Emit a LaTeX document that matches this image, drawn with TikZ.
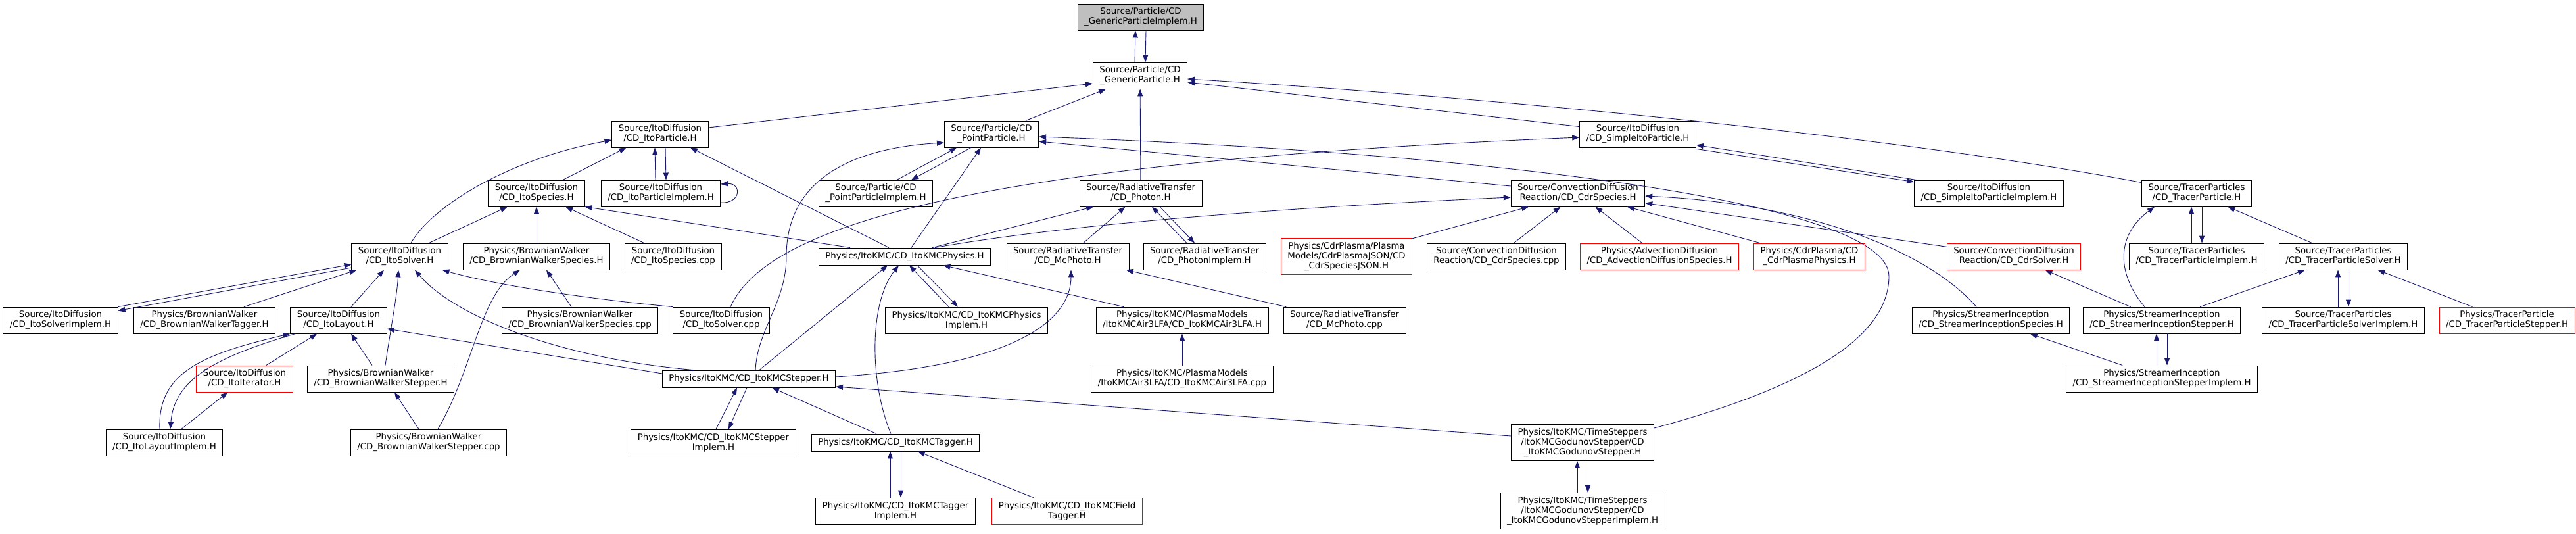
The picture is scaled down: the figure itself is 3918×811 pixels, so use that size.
\documentclass[tikz,border=0pt]{standalone}
\usepackage{fontspec}
\newfontfamily\dvs{DejaVu Sans}
\usepackage{tikz}
\usetikzlibrary{arrows.meta}

\definecolor{edgeblue}{HTML}{191970}
\definecolor{rootgray}{HTML}{BFBFBF}

\tikzset{
  file/.style={draw=black, fill=white, line width=0.9pt, align=center,
    inner xsep=10pt, inner ysep=1pt, minimum height=40pt,
    font=\dvs\fontsize{13.3pt}{15pt}\selectfont},
  oneline/.style={minimum height=26pt},
  threeline/.style={minimum height=55pt},
  trunc/.style={draw=red},
  root/.style={fill=rootgray},
  dep/.style={draw=edgeblue, line width=0.9pt, -{Triangle[length=11pt,width=8pt]}},
}

\begin{document}
\begin{tikzpicture}[x=1pt, y=-1pt]
	\useasboundingbox (0,0) rectangle (3918,811);

	% 第0-2行
	\node[file, root] (gpi) at (1735,26) {Source/Particle/CD\\\_GenericParticleImplem.H};
	\node[file] (gp) at (1734,115) {Source/Particle/CD\\\_GenericParticle.H};
	\node[file] (itop) at (1004,204) {Source/ItoDiffusion\\/CD\_ItoParticle.H};
	\node[file] (pp) at (1508,204) {Source/Particle/CD\\\_PointParticle.H};
	\node[file] (sip) at (2491,204) {Source/ItoDiffusion\\/CD\_SimpleItoParticle.H};

	% 第3行
	\node[file] (itospec) at (816,294) {Source/ItoDiffusion\\/CD\_ItoSpecies.H};
	\node[file] (itopi) at (1005,294) {Source/ItoDiffusion\\/CD\_ItoParticleImplem.H};
	\node[file] (ppi) at (1332,294) {Source/Particle/CD\\\_PointParticleImplem.H};
	\node[file] (photon) at (1735,294) {Source/RadiativeTransfer\\/CD\_Photon.H};
	\node[file] (cdrspec) at (2400,294) {Source/ConvectionDiffusion\\Reaction/CD\_CdrSpecies.H};
	\node[file] (sipi) at (3025,294) {Source/ItoDiffusion\\/CD\_SimpleItoParticleImplem.H};
	\node[file] (tp) at (3341,294) {Source/TracerParticles\\/CD\_TracerParticle.H};

	% 第4行
	\node[file] (itosolver) at (608,390) {Source/ItoDiffusion\\/CD\_ItoSolver.H};
	\node[file] (bwspec) at (816,390) {Physics/BrownianWalker\\/CD\_BrownianWalkerSpecies.H};
	\node[file] (itospeccpp) at (1024,390) {Source/ItoDiffusion\\/CD\_ItoSpecies.cpp};
	\node[file, oneline] (kmcphys) at (1376,390) {Physics/ItoKMC/CD\_ItoKMCPhysics.H};
	\node[file] (mcphoto) at (1624,390) {Source/RadiativeTransfer\\/CD\_McPhoto.H};
	\node[file] (photonimpl) at (1832,390) {Source/RadiativeTransfer\\/CD\_PhotonImplem.H};
	\node[file, threeline, trunc] (cdrjson) at (2048,390) {Physics/CdrPlasma/Plasma\\Models/CdrPlasmaJSON/CD\\\_CdrSpeciesJSON.H};
	\node[file] (cdrspeccpp) at (2276,390) {Source/ConvectionDiffusion\\Reaction/CD\_CdrSpecies.cpp};
	\node[file, trunc] (advdiff) at (2524,390) {Physics/AdvectionDiffusion\\/CD\_AdvectionDiffusionSpecies.H};
	\node[file, trunc] (cdrphys) at (2752,390) {Physics/CdrPlasma/CD\\\_CdrPlasmaPhysics.H};
	\node[file, trunc] (cdrsolver) at (3063,390) {Source/ConvectionDiffusion\\Reaction/CD\_CdrSolver.H};
	\node[file] (tpi) at (3341,390) {Source/TracerParticles\\/CD\_TracerParticleImplem.H};
	\node[file] (tps) at (3564,390) {Source/TracerParticles\\/CD\_TracerParticleSolver.H};

	% 第5行
	\node[file] (itosolverimpl) at (92,487) {Source/ItoDiffusion\\/CD\_ItoSolverImplem.H};
	\node[file] (bwtagger) at (311,487) {Physics/BrownianWalker\\/CD\_BrownianWalkerTagger.H};
	\node[file] (itolayout) at (515,487) {Source/ItoDiffusion\\/CD\_ItoLayout.H};
	\node[file] (bwspeccpp) at (882,487) {Physics/BrownianWalker\\/CD\_BrownianWalkerSpecies.cpp};
	\node[file] (itosolvercpp) at (1097,487) {Source/ItoDiffusion\\/CD\_ItoSolver.cpp};
	\node[file] (kmcphysimpl) at (1470,487) {Physics/ItoKMC/CD\_ItoKMCPhysics\\Implem.H};
	\node[file] (air3lfa) at (1798,487) {Physics/ItoKMC/PlasmaModels\\/ItoKMCAir3LFA/CD\_ItoKMCAir3LFA.H};
	\node[file] (mcphotocpp) at (2045,487) {Source/RadiativeTransfer\\/CD\_McPhoto.cpp};
	\node[file] (sispec) at (3028,487) {Physics/StreamerInception\\/CD\_StreamerInceptionSpecies.H};
	\node[file] (sistep) at (3288,487) {Physics/StreamerInception\\/CD\_StreamerInceptionStepper.H};
	\node[file] (tpsi) at (3564,487) {Source/TracerParticles\\/CD\_TracerParticleSolverImplem.H};
	\node[file, trunc] (tpstep) at (3813,487) {Physics/TracerParticle\\/CD\_TracerParticleStepper.H};

	% 第6-8行
	\node[file, trunc] (itoiter) at (372,576) {Source/ItoDiffusion\\/CD\_ItoIterator.H};
	\node[file] (bwstepper) at (579,576) {Physics/BrownianWalker\\/CD\_BrownianWalkerStepper.H};
	\node[file, oneline] (kmcstepper) at (1139,576) {Physics/ItoKMC/CD\_ItoKMCStepper.H};
	\node[file] (air3lfacpp) at (1798,576) {Physics/ItoKMC/PlasmaModels\\/ItoKMCAir3LFA/CD\_ItoKMCAir3LFA.cpp};
	\node[file] (sistepimpl) at (3288,576) {Physics/StreamerInception\\/CD\_StreamerInceptionStepperImplem.H};
	\node[file] (itolayoutimpl) at (250,673) {Source/ItoDiffusion\\/CD\_ItoLayoutImplem.H};
	\node[file] (bwsteppercpp) at (652,673) {Physics/BrownianWalker\\/CD\_BrownianWalkerStepper.cpp};
	\node[file] (kmcstepimpl) at (1085,673) {Physics/ItoKMC/CD\_ItoKMCStepper\\Implem.H};
	\node[file, oneline] (kmctagger) at (1362,673) {Physics/ItoKMC/CD\_ItoKMCTagger.H};
	\node[file, threeline] (godunov) at (2407,673) {Physics/ItoKMC/TimeSteppers\\/ItoKMCGodunovStepper/CD\\\_ItoKMCGodunovStepper.H};
	\node[file] (kmctagimpl) at (1362,777) {Physics/ItoKMC/CD\_ItoKMCTagger\\Implem.H};
	\node[file, trunc] (fieldtagger) at (1623,777) {Physics/ItoKMC/CD\_ItoKMCField\\Tagger.H};
	\node[file, threeline] (godunovimpl) at (2407,777) {Physics/ItoKMC/TimeSteppers\\/ItoKMCGodunovStepper/CD\\\_ItoKMCGodunovStepperImplem.H};

	% 直线依赖
	\foreach \s/\t in {pp/gp, photon/gp, itosolver/itospec, bwspec/itospec, itospeccpp/itospec,
		mcphoto/photon, cdrjson/cdrspec, cdrspeccpp/cdrspec, advdiff/cdrspec, cdrphys/cdrspec,
		cdrsolver/cdrspec, tps/tp, sistep/tps, tpstep/tps, sistep/cdrsolver, sistepimpl/sispec,
		itoiter/itolayout, itolayoutimpl/itoiter, air3lfa/kmcphys, mcphotocpp/mcphoto,
		air3lfacpp/air3lfa, fieldtagger/kmctagger}
		\draw[dep] (\s) -- (\t);

	% 互相包含（竖直）
	\foreach \up/\lo in {gpi/gp, itop/itopi, tp/tpi, tps/tpsi, sistep/sistepimpl, kmctagger/kmctagimpl, godunov/godunovimpl} {
		\draw[dep] ([xshift=-8pt]\lo.north) -- ([xshift=-8pt]\up.south);
		\draw[dep] ([xshift=8pt]\up.south) -- ([xshift=8pt]\lo.north);
	}

	% 互相包含（斜）
	\draw[dep] ([xshift=32pt]ppi.north) -- ([xshift=-53pt]pp.south);
	\draw[dep] ([xshift=-31pt]pp.south) -- ([xshift=54pt]ppi.north);
	\draw[dep] ([xshift=-27pt]photonimpl.north) -- ([xshift=17pt]photon.south);
	\draw[dep] ([xshift=29pt]photon.south) -- ([xshift=-15pt]photonimpl.north);
	\draw[dep] ([xshift=-27pt]kmcphysimpl.north) -- ([xshift=7pt]kmcphys.south);
	\draw[dep] ([xshift=19pt]kmcphys.south) -- ([xshift=-13pt]kmcphysimpl.north);
	\draw[dep] ([xshift=4pt]sipi.north west) -- ([yshift=4pt]sip.south east);
	\draw[dep] ([yshift=-2pt]sip.south east) -- ([yshift=-3pt]sipi.north west);
	\draw[dep] (itosolverimpl.north east) -- ([yshift=-12pt]itosolver.west);
	\draw[dep] ([yshift=-17pt]itosolver.west) -- ([yshift=-6pt]itosolverimpl.north east);
	\draw[dep] ([xshift=4pt]kmcstepimpl.north) -- ([xshift=-18pt]kmcstepper.south);
	\draw[dep] ([xshift=-3pt]kmcstepper.south) -- ([xshift=23pt]kmcstepimpl.north);
	\draw[dep] ([xshift=-7pt]itolayoutimpl.north) .. controls (240,570) and (300,540) .. (itolayout.south west);
	\draw[dep] ([xshift=8pt]itolayout.south west) .. controls (320,545) and (265,580) .. ([xshift=9pt]itolayoutimpl.north);
	\draw[dep] ([yshift=-14pt]itopi.east) .. controls (1128,310) and (1128,278) .. ([yshift=14pt]itopi.east);

	% 上层
	\draw[dep] ([yshift=10pt]itop.east) -- ([yshift=-12pt]gp.west);
	\draw[dep] ([yshift=-9pt]sip.north west) -- ([yshift=-10pt]gp.east);
	\draw[dep] ([yshift=-4pt]tp.north west) .. controls (2900,210) and (2300,150) .. ([yshift=-5pt]gp.east);
	\draw[dep] ([xshift=40pt]itospec.north) -- ([xshift=22pt]itop.south west);
	\draw[dep] ([xshift=17pt]itosolver.north) .. controls (660,310) and (780,240) .. ([yshift=-9pt]itop.west);
	\draw[dep] ([yshift=11pt]cdrspec.west) -- ([yshift=-11pt]pp.east);
	\draw[dep] ([yshift=22pt]godunov.east) .. controls (2780,580) and (2873,500) .. (2873,420)
		.. controls (2873,300) and (2200,230) .. ([yshift=-4pt]pp.east);
	\draw[dep] ([xshift=14pt]itosolvercpp.north) .. controls (1160,360) and (1400,250) .. ([yshift=-5pt]sip.west);
	\draw[dep] ([xshift=-22pt]sispec.north) .. controls (2930,380) and (2750,310) .. ([yshift=-4pt]cdrspec.east);
	\draw[dep] ([xshift=-26pt]sistep.north) .. controls (3222,420) and (3215,360) .. ([xshift=-64pt]tp.south);

	% ItoKMCPhysics
	\draw[dep] ([xshift=-83pt]kmcphys.north) -- (itospec.south east);
	\draw[dep] ([xshift=-24pt]kmcphys.north) -- ([xshift=46pt]itop.south);
	\draw[dep] ([xshift=10pt]kmcphys.north) -- ([xshift=-16pt]pp.south);
	\draw[dep] ([xshift=42pt]kmcphys.north) -- ([xshift=-72pt]photon.south);
	\draw[dep] ([xshift=46pt]kmcphys.north) .. controls (1600,345) and (1900,318) .. ([yshift=-6pt]cdrspec.west);

	% ItoSolver 及下层
	\draw[dep] ([xshift=60pt]bwtagger.north) -- ([xshift=8pt]itosolver.south west);
	\draw[dep] ([xshift=19pt]itolayout.north) -- ([xshift=-24pt]itosolver.south);
	\draw[dep] ([xshift=7pt]bwstepper.north) .. controls (594,500) and (604,450) .. ([xshift=-2pt]itosolver.south);
	\draw[dep] ([xshift=48pt]kmcstepper.north west) .. controls (850,545) and (690,480) .. ([xshift=23pt]itosolver.south);
	\draw[dep] (itosolvercpp.north west) .. controls (900,455) and (760,435) .. ([xshift=-9pt]itosolver.south east);
	\draw[dep] ([xshift=14pt]bwsteppercpp.north) .. controls (720,560) and (730,450) .. ([xshift=-25pt]bwspec.south);
	\draw[dep] ([xshift=-13pt]bwspeccpp.north) -- ([xshift=15pt]bwspec.south);
	\draw[dep] ([xshift=-13pt]bwstepper.north) -- ([xshift=19pt]itolayout.south);
	\draw[dep] ([yshift=8pt]kmcstepper.west) -- ([yshift=-13pt]itolayout.east);
	\draw[dep] ([xshift=-15pt]bwsteppercpp.north) -- ([xshift=21pt]bwstepper.south);

	% ItoKMCStepper
	\draw[dep] ([xshift=10pt]kmcstepper.north) .. controls (1152,500) and (1196,460) .. (1196,390)
		.. controls (1196,270) and (1300,225) .. ([yshift=-13pt]pp.west);
	\draw[dep] ([xshift=16pt]kmcstepper.north) -- ([xshift=-26pt]kmcphys.south);
	\draw[dep] ([xshift=-7pt]kmctagger.north) .. controls (1322,580) and (1322,460) .. ([xshift=-9pt]kmcphys.south);
	\draw[dep] ([yshift=3pt]kmcstepper.east) .. controls (1560,555) and (1629,480) .. ([xshift=5pt]mcphoto.south);
	\draw[dep] ([xshift=-29pt]kmctagger.north) -- ([xshift=35pt]kmcstepper.south);
	\draw[dep] ([yshift=10pt]godunov.west) -- ([yshift=-12pt]kmcstepper.east);
\end{tikzpicture}
\end{document}
